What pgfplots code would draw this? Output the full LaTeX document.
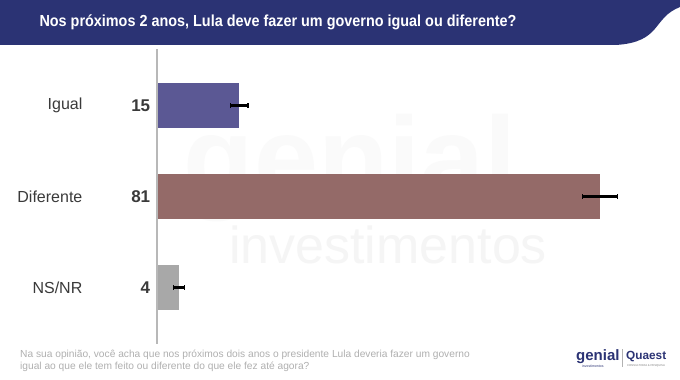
\documentclass[border=0pt]{standalone}
\usepackage{pgfplots}
\pgfplotsset{compat=1.18}
\usepackage{fontspec}
\setmainfont{Liberation Sans}
\newfontfamily\titlefont[FakeStretch=0.9]{Liberation Sans}
\definecolor{navy}{HTML}{2B3374}
\definecolor{cIgual}{HTML}{5B5894}
\definecolor{cDif}{HTML}{946A68}
\definecolor{cNS}{HTML}{A8A8A8}
\definecolor{lab}{HTML}{3A3A3A}
\definecolor{foot}{HTML}{B0B0B0}
\definecolor{axgray}{HTML}{B8B8B8}
\pgfplotsset{myerr/.style={black, line width=2.4pt, mark=none, forget plot,
  error bars/.cd, x dir=both, x explicit,
  error bar style={line width=2.4pt, black},
  error mark options={black, line width=1.4pt, mark size=2.3pt, rotate=90}}}
\begin{document}
\begin{tikzpicture}[x=1pt,y=1pt]
\fill[white] (0,0) rectangle (680,380);
\fill[navy] (0,380) -- (680,380) -- (680,373) .. controls (652,362) and (662,338) .. (616,335) -- (0,335) -- cycle;
\node[anchor=west, text=white, font=\titlefont\bfseries\fontsize{16}{18}\selectfont] at (36,357.5) {Nos próximos 2 anos, Lula deve fazer um governo igual ou diferente?};
% watermark
\node[text=gray!4, font=\bfseries\fontsize{115}{115}\selectfont] at (350,212) {genial};
\node[text=gray!8, font=\fontsize{52}{52}\selectfont] at (388,135) {investimentos};
\begin{axis}[
  at={(157pt,274.5pt)}, anchor=origin, scale only axis,
  width=492.3pt, height=294.8pt,
  xmin=0, xmax=90, ymin=-0.62, ymax=2.62, y dir=reverse,
  axis lines=none, xtick=\empty, ytick=\empty, clip=false,
  bar width=45pt, bar shift=0pt,
]
\addplot[xbar, fill=cIgual, draw=none] coordinates {(15,0)};
\addplot[xbar, fill=cDif, draw=none] coordinates {(81,1)};
\addplot[xbar, fill=cNS, draw=none] coordinates {(4,2)};
\addplot[myerr] coordinates {(15,0) +- (1.6,0)};
\addplot[myerr] coordinates {(81,1) +- (3.2,0)};
\addplot[myerr] coordinates {(4,2) +- (1.0,0)};
\draw[axgray, line width=1.6pt] (axis cs:0,-0.62) -- (axis cs:0,2.62);
\node[anchor=east, text=lab, font=\fontsize{16}{16}\selectfont] at (axis cs:-13.0,0) {Igual};
\node[anchor=east, text=lab, font=\fontsize{16}{16}\selectfont] at (axis cs:-13.0,1) {Diferente};
\node[anchor=east, text=lab, font=\fontsize{16}{16}\selectfont] at (axis cs:-13.0,2) {NS/NR};
\node[anchor=east, text=lab, font=\bfseries\fontsize{17}{17}\selectfont] at (axis cs:-0.6,0) {15};
\node[anchor=east, text=lab, font=\bfseries\fontsize{17}{17}\selectfont] at (axis cs:-0.6,1) {81};
\node[anchor=east, text=lab, font=\bfseries\fontsize{17}{17}\selectfont] at (axis cs:-0.6,2) {4};
\end{axis}
% footer
\node[anchor=base west, inner sep=0pt, text=foot, font=\fontsize{10.2}{12}\selectfont] at (20,22) {Na sua opinião, você acha que nos próximos dois anos o presidente Lula deveria fazer um governo};
\node[anchor=base west, inner sep=0pt, text=foot, font=\fontsize{10.2}{12}\selectfont] at (20,10) {igual ao que ele tem feito ou diferente do que ele fez até agora?};
% logos
\node[anchor=base west, inner sep=0pt, text=navy, font=\bfseries\fontsize{15}{15}\selectfont] at (576,19) {genial};
\node[anchor=base west, inner sep=0pt, text=navy, font=\fontsize{3.5}{4}\selectfont] at (582,12.5) {investimentos};
\draw[gray!60, line width=0.6pt] (622,13) -- (622,31);
\node[anchor=base west, inner sep=0pt, text=navy, font=\bfseries\fontsize{11.8}{12}\selectfont] at (626,20) {Quaest};
\node[anchor=base west, inner sep=0pt, text=gray, font=\fontsize{2.8}{3}\selectfont] at (627,13) {CONSULTORIA \& PESQUISA};
\end{tikzpicture}
\end{document}
